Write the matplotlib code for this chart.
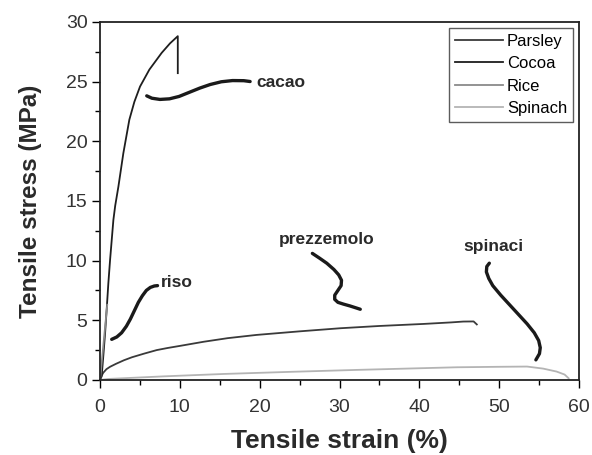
import matplotlib
matplotlib.use("Agg")
import matplotlib.pyplot as plt
from matplotlib.ticker import MultipleLocator

plt.rcParams['font.family'] = ['Liberation Sans', 'DejaVu Sans']

# stress-strain curves (strain %, stress MPa)
parsley_x = [0, 0.15, 0.4, 0.8, 1.25, 2, 3, 4, 5.5, 7.1, 8.5, 10, 13, 16, 19.6, 25, 30.1, 35, 40.5, 44, 45.5, 46.8, 47.2]
parsley_y = [0, 0.3, 0.6, 0.9, 1.1, 1.35, 1.65, 1.9, 2.2, 2.5, 2.68, 2.85, 3.2, 3.5, 3.77, 4.07, 4.33, 4.52, 4.69, 4.82, 4.89, 4.9, 4.65]

cocoa_x = [0, 0.2, 0.42, 0.63, 0.84, 1.04, 1.25, 1.46, 1.67, 1.9, 2.3, 2.92, 3.67, 4.3, 5.01, 6.18, 7.72, 8.77, 9.74, 9.74]
cocoa_y = [0, 0.3, 2.1, 3.9, 6.0, 8.1, 10.0, 11.7, 13.4, 14.6, 16.2, 19.0, 21.8, 23.3, 24.58, 26.0, 27.4, 28.2, 28.8, 25.7]

rice_x = [0, 0.3, 0.6, 0.9]
rice_y = [0, 2.1, 4.2, 6.3]

spinach_x = [0, 1, 2.9, 8, 15.5, 24, 32.2, 39, 44.7, 50, 53.5, 55.5, 57.2, 58.2, 58.7]
spinach_y = [0, 0.08, 0.14, 0.3, 0.5, 0.68, 0.84, 0.96, 1.06, 1.1, 1.12, 0.95, 0.7, 0.45, 0.14]

series = ["Parsley", "Cocoa", "Rice", "Spinach"]
colors = ["#3a3a3a", "#1e1e1e", "#8a8a8a", "#b4b4b4"]

# hand-drawn pointer strokes and their Italian labels
cacao_px = [5.85, 6.5, 7.5, 8.7, 9.9, 11.2, 12.5, 13.8, 15.2, 16.6, 18.0, 18.8]
cacao_py = [23.8, 23.6, 23.5, 23.55, 23.75, 24.1, 24.45, 24.75, 24.98, 25.08, 25.07, 25.0]
riso_px = [1.46, 2.1, 2.7, 3.3, 3.8, 4.3, 4.8, 5.3, 5.8, 6.3, 6.8, 7.2]
riso_py = [3.4, 3.6, 3.95, 4.5, 5.1, 5.8, 6.5, 7.05, 7.5, 7.75, 7.87, 7.9]
prezz_px = [26.6, 27.5, 28.4, 29.3, 29.9, 30.25, 30.2, 29.8, 29.4, 29.4, 29.8, 30.5, 31.3, 32.0, 32.6]
prezz_py = [10.6, 10.2, 9.78, 9.25, 8.8, 8.35, 7.9, 7.5, 7.1, 6.75, 6.5, 6.35, 6.2, 6.05, 5.92]
spin_px = [48.77, 48.45, 48.4, 48.7, 49.2, 50.2, 51.3, 52.4, 53.5, 54.4, 54.95, 55.15, 55.05, 54.6]
spin_py = [9.78, 9.5, 9.05, 8.5, 7.9, 7.1, 6.3, 5.5, 4.7, 3.95, 3.3, 2.7, 2.2, 1.68]

labels = ["cacao", "riso", "prezzemolo", "spinaci"]
label_x = [19.6, 7.6, 28.4, 49.3]
label_y = [24.9, 8.2, 11.8, 11.2]
label_ha = ["left", "left", "center", "center"]

fig = plt.figure(figsize=(5.92, 4.55), dpi=100)
ax = fig.add_axes([0.169, 0.165, 0.809, 0.787])

for xs, ys, name, c in zip([parsley_x, cocoa_x, rice_x, spinach_x],
                           [parsley_y, cocoa_y, rice_y, spinach_y], series, colors):
    ax.plot(xs, ys, color=c, lw=1.3, label=name)

for xs, ys in [(cacao_px, cacao_py), (riso_px, riso_py), (prezz_px, prezz_py), (spin_px, spin_py)]:
    ax.plot(xs, ys, color="#1a1a1a", lw=2.4, solid_capstyle="round", solid_joinstyle="round")

for t, x, y, ha in zip(labels, label_x, label_y, label_ha):
    ax.text(x, y, t, ha=ha, va="center", fontsize=12.5, fontweight="bold", color="#2a2a2a")

ax.set_xlim(0, 60)
ax.set_ylim(0, 30)
ax.xaxis.set_major_locator(MultipleLocator(10))
ax.xaxis.set_minor_locator(MultipleLocator(5))
ax.yaxis.set_major_locator(MultipleLocator(5))
ax.yaxis.set_minor_locator(MultipleLocator(2.5))
ax.tick_params(which="major", length=6, width=1, direction="out", labelsize=14,
               labelcolor="#333333", pad=3)
ax.tick_params(axis="x", which="major", pad=8)
ax.tick_params(which="minor", length=3.5, width=1, direction="out")
for s in ax.spines.values():
    s.set_linewidth(1.3)
    s.set_color("#222222")

ax.set_xlabel("Tensile strain (%)", fontsize=19, fontweight="bold", color="#2a2a2a", labelpad=9)
ax.set_ylabel("Tensile stress (MPa)", fontsize=17.5, fontweight="bold", color="#2a2a2a", labelpad=17)

leg = ax.legend(loc="upper right", fontsize=12, frameon=True, fancybox=False,
                edgecolor="#333333", handlelength=2.9, handletextpad=0.25,
                labelspacing=0.45, borderpad=0.35, borderaxespad=0.35)
leg.get_frame().set_linewidth(1.0)

fig.savefig("out.png", dpi=100)
